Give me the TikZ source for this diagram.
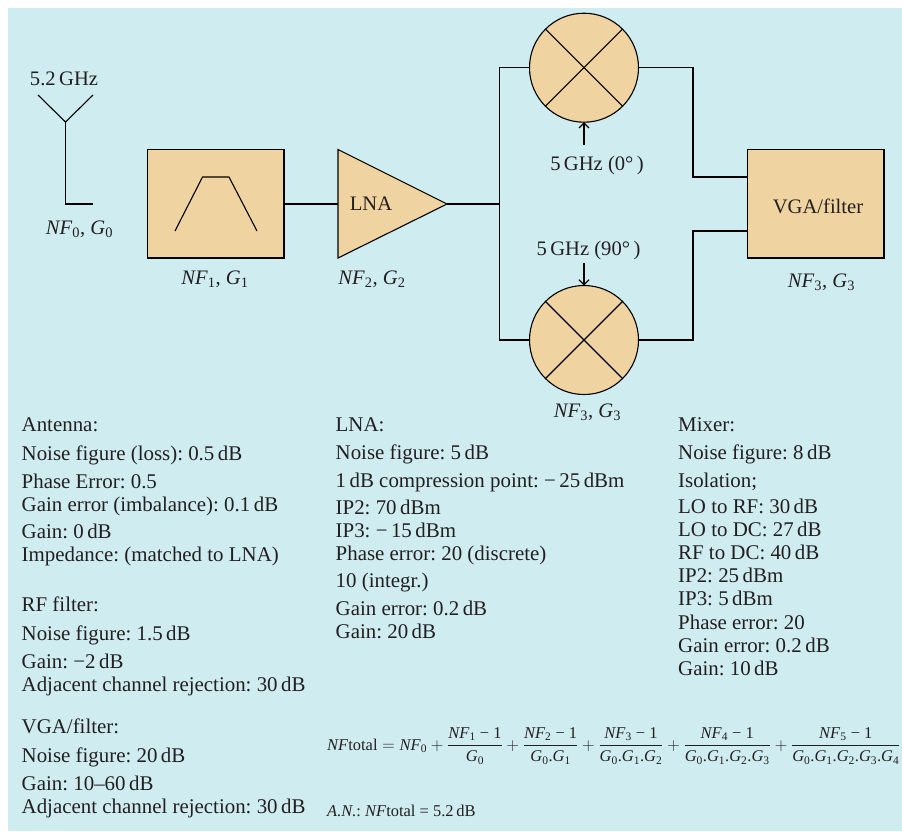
\documentclass[tikz,border=0pt]{standalone}
\usepackage{amsmath}
\usepackage{fontspec}
\setmainfont{Liberation Serif}
\usepackage{xcolor}
\usetikzlibrary{arrows.meta}
\definecolor{panelcol}{RGB}{207,236,240}
\definecolor{blockcol}{RGB}{239,211,160}
\definecolor{inkcol}{RGB}{35,31,32}
\newcommand{\nfsub}[1]{\textit{NF}\textsubscript{#1}}
\newcommand{\gsub}[1]{\textit{G}\textsubscript{#1}}
\newcommand{\nfg}[1]{\nfsub{#1}, \gsub{#1}}
\newcommand{\nffrac}[2]{\dfrac{\mbox{\nfsub{#1} − 1}}{\mbox{#2}}}
\frenchspacing

\begin{document}
\begin{tikzpicture}[
  x=1pt, y=-1pt,
  wire/.style     = {draw=black, line width=1.1pt, line join=miter},
  blockbox/.style = {rectangle, draw=black, fill=blockcol, line width=1.1pt, outer sep=0pt, minimum width=136.5pt, minimum height=108.5pt},
  mixer/.style    = {circle, draw=black, fill=blockcol, line width=1.1pt, outer sep=0pt, inner sep=0pt, minimum size=109pt},
  lo/.style       = {-{Straight Barb[length=5pt,width=10pt]}, wire},
  lbl/.style      = {inner sep=0pt, anchor=base, text=inkcol, font=\fontsize{20.6}{24}\selectfont},
  spec/.style     = {inner sep=0pt, anchor=base west, text=inkcol, font=\fontsize{20.9}{24}\selectfont},
  eqn/.style      = {inner sep=0pt, anchor=base west, text=inkcol, font=\fontsize{16.45}{19}\selectfont},
]
\useasboundingbox (0,0) rectangle (902,831);
\fill[panelcol] (8,8) rectangle (902,831);
% Antenna
\coordinate (antL) at (38,95);
\coordinate (antR) at (93,95);
\coordinate (antJ) at (65.5,122);
\coordinate (antB) at (65.5,204);
\coordinate (antE) at (93,204);
\draw[wire] (antL) -- (antJ) -- (antR);
\draw[wire] (antJ) -- (antB) -- (antE);
\node[lbl] (antf) at (64,85) {5.2\,GHz};
\node[lbl] (antnf) at (79.5,234) {\nfg{0}};
% RF filter
\node[blockbox] (filt) at (215.75,203.75) {};
\coordinate (passA) at (175,231);
\coordinate (passB) at (202.5,177);
\coordinate (passC) at (229,177);
\coordinate (passD) at (257,231);
\draw[wire] (passA) -- (passB) -- (passC) -- (passD);
\node[lbl] (filtnf) at (215,284) {\nfg{1}};
% LNA
\coordinate (lnaT) at (338,149.5);
\coordinate (lnaB) at (338,258);
\coordinate (lnaI) at (338,204);
\coordinate (lnaO) at (447,204);
\draw[wire, fill=blockcol] (lnaT) -- (lnaO) -- (lnaB) -- cycle;
\node[lbl] (lnatxt) at (371,210) {LNA};
\node[lbl] (lnanf) at (372,284) {\nfg{2}};
\draw[wire] (filt.east |- lnaI) -- (lnaI);
% Mixers
\node[mixer] (mix1) at (584,67.7) {};
\node[mixer] (mix2) at (584,340) {};
\draw[wire] (mix1.45) -- (mix1.225);
\draw[wire] (mix1.135) -- (mix1.315);
\draw[wire] (mix2.45) -- (mix2.225);
\draw[wire] (mix2.135) -- (mix2.315);
\coordinate (lo1) at (584,145);
\coordinate (lo2) at (584,263);
\draw[lo] (lo1) -- (mix1.south);
\draw[lo] (lo2) -- (mix2.north);
\node[lbl] (lo1txt) at (597,170) {5\,GHz (0°\,)};
\node[lbl] (lo2txt) at (588.5,255) {5\,GHz (90°\,)};
\node[lbl] (mixnf) at (587.5,417) {\nfg{3}};
% Splitter
\coordinate (bus) at (499.5,204);
\draw[wire] (lnaO) -- (bus);
\draw[wire] (mix1.west) -| (bus) |- (mix2.west);
% VGA/filter
\node[blockbox] (vga) at (815.75,203.75) {};
\node[lbl] (vgatxt) at (818,213) {VGA/filter};
\node[lbl] (vganf) at (821.5,287) {\nfg{3}};
\coordinate (jog1) at (693,177);
\coordinate (jog2) at (693,231);
\coordinate (vgaI) at (747.5,177);
\coordinate (vgaQ) at (747.5,231);
\draw[wire] (mix1.east) -| (jog1) -- (vgaI);
\draw[wire] (mix2.east) -| (jog2) -- (vgaQ);
% Antenna and filter specs
\node[spec] (a1) at (21.5,431) {Antenna:};
\node[spec] (a2) at (21.5,460) {Noise figure (loss): 0.5\,dB};
\node[spec] (a3) at (21.5,488) {Phase Error: 0.5};
\node[spec] (a4) at (21.5,511) {Gain error (imbalance): 0.1\,dB};
\node[spec] (a5) at (21.5,538) {Gain: 0\,dB};
\node[spec] (a6) at (21.5,561) {Impedance: (matched to LNA)};
\node[spec] (f1) at (21.5,611) {RF filter:};
\node[spec] (f2) at (21.5,640) {Noise figure: 1.5\,dB};
\node[spec] (f3) at (21.5,668) {Gain: −2\,dB};
\node[spec] (f4) at (21.5,691) {Adjacent channel rejection: 30\,dB};
\node[spec] (v1) at (21.5,733) {VGA/filter:};
\node[spec] (v2) at (21.5,762) {Noise figure: 20\,dB};
\node[spec] (v3) at (21.5,790) {Gain: 10–60\,dB};
\node[spec] (v4) at (21.5,813) {Adjacent channel rejection: 30\,dB};
% LNA specs
\node[spec] (l1) at (335.5,431) {LNA:};
\node[spec] (l2) at (335.5,459) {Noise figure: 5\,dB};
\node[spec] (l3) at (335.5,487) {1\,dB compression point: −\,25\,dBm};
\node[spec] (l4) at (335.5,514) {IP2: 70\,dBm};
\node[spec] (l5) at (335.5,537) {IP3: −\,15\,dBm};
\node[spec] (l6) at (335.5,560) {Phase error: 20 (discrete)};
\node[spec] (l7) at (335.5,587) {10 (integr.)};
\node[spec] (l8) at (335.5,615) {Gain error: 0.2\,dB};
\node[spec] (l9) at (335.5,638) {Gain: 20\,dB};
% Mixer specs
\node[spec] (m1) at (678,431) {Mixer:};
\node[spec] (m2) at (678,459) {Noise figure: 8\,dB};
\node[spec] (m3) at (678,487) {Isolation;};
\node[spec] (m4) at (678,513) {LO to RF: 30\,dB};
\node[spec] (m5) at (678,536) {LO to DC: 27\,dB};
\node[spec] (m6) at (678,559) {RF to DC: 40\,dB};
\node[spec] (m7) at (678,582) {IP2: 25\,dBm};
\node[spec] (m8) at (678,605) {IP3: 5\,dBm};
\node[spec] (m9) at (678,629) {Phase error: 20};
\node[spec] (m10) at (678,652) {Gain error: 0.2\,dB};
\node[spec] (m11) at (678,675) {Gain: 10\,dB};
% Noise budget
\node[eqn] (nftotal) at (327,750) {$\mbox{\textit{NF}total} = \mbox{\nfsub{0}} + \nffrac{1}{\gsub{0}} + \nffrac{2}{\gsub{0}.\gsub{1}} + \nffrac{3}{\gsub{0}.\gsub{1}.\gsub{2}} + \nffrac{4}{\gsub{0}.\gsub{1}.\gsub{2}.\gsub{3}} + \nffrac{5}{\gsub{0}.\gsub{1}.\gsub{2}.\gsub{3}.\gsub{4}}$};
\node[eqn] (an) at (327,816) {\textit{A.N.}: \textit{NF}total = 5.2\,dB};
\end{tikzpicture}
\end{document}
